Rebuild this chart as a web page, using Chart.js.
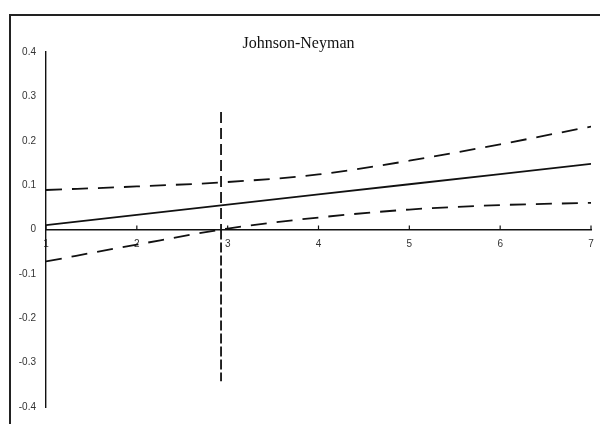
<!DOCTYPE html>
<html>
<head>
<meta charset="utf-8">
<script src="https://cdn.jsdelivr.net/npm/chart.js@4/dist/chart.umd.min.js"></script>
<style>
  html, body { margin: 0; padding: 0; background: #fff; }
  #wrap { width: 600px; height: 424px; position: relative; }
</style>
</head>
<body>
<div id="wrap"><canvas id="c" width="600" height="424"></canvas></div>
<script>
// ---- data ----
const titleText = "Johnson-Neyman";
const xValues = [1, 2, 3, 4, 5, 6, 7];
const effect = [0.010, 0.033, 0.056, 0.079, 0.102, 0.125, 0.148];
const upperCI = [0.089, 0.097, 0.107, 0.124, 0.155, 0.192, 0.232];
const lowerCI = [-0.072, -0.034, 0.002, 0.027, 0.045, 0.055, 0.060];
const jnPoint = 2.927;
const jnLineTop = 0.265;
const jnLineBottom = -0.342;
const xTicks = [1, 2, 3, 4, 5, 6, 7];
const xTickLabels = ["1", "2", "3", "4", "5", "6", "7"];
const yTicks = [-0.4, -0.3, -0.2, -0.1, 0, 0.1, 0.2, 0.3, 0.4];
const yTickLabels = ["-0.4", "-0.3", "-0.2", "-0.1", "0", "0.1", "0.2", "0.3", "0.4"];

const ink = '#111';

function pts(xs, ys) { return xs.map((x, i) => ({ x: x, y: ys[i] })); }

const framePlugin = {
  id: 'frame',
  beforeDraw(chart) {
    const ctx = chart.ctx;
    ctx.save();
    ctx.strokeStyle = '#222';
    ctx.lineWidth = 2;
    ctx.beginPath();
    ctx.moveTo(10, 424);
    ctx.lineTo(10, 15);
    ctx.lineTo(600, 15);
    ctx.stroke();
    ctx.restore();
  },
  afterDraw(chart) {
    const xs = chart.scales.x, ys = chart.scales.y;
    const ctx = chart.ctx;
    const y0 = ys.getPixelForValue(0);
    ctx.save();
    ctx.strokeStyle = ink;
    ctx.lineWidth = 1.2;
    xs.ticks.forEach(t => {
      const px = xs.getPixelForValue(t.value);
      ctx.beginPath();
      ctx.moveTo(px, y0);
      ctx.lineTo(px, y0 - 4);
      ctx.stroke();
    });
    ctx.restore();
  }
};

new Chart(document.getElementById('c'), {
  type: 'line',
  data: {
    datasets: [
      { data: pts(xValues, effect), borderColor: ink, borderWidth: 1.8, pointRadius: 0, tension: 0 },
      { data: pts(xValues, upperCI), borderColor: ink, borderWidth: 1.8, borderDash: [16, 10], pointRadius: 0, cubicInterpolationMode: 'monotone' },
      { data: pts(xValues, lowerCI), borderColor: ink, borderWidth: 1.8, borderDash: [16, 10], pointRadius: 0, cubicInterpolationMode: 'monotone' },
      { data: [{ x: jnPoint, y: jnLineTop }, { x: jnPoint, y: 0 }], borderColor: ink, borderWidth: 1.8, borderDash: [11, 5], pointRadius: 0 },
      { data: [{ x: jnPoint, y: 0 }, { x: jnPoint, y: jnLineBottom }], borderColor: ink, borderWidth: 1.8, borderDash: [10, 3], pointRadius: 0 }
    ]
  },
  options: {
    responsive: false,
    animation: false,
    layout: { padding: { top: 0, left: 6, right: 9, bottom: 17 } },
    plugins: {
      legend: { display: false },
      tooltip: { enabled: false },
      title: {
        display: true,
        text: titleText,
        color: ink,
        font: { family: '"Liberation Serif", "Times New Roman", serif', size: 16, weight: 'normal', lineHeight: 1.0 },
        padding: { top: 36, bottom: 0 }
      }
    },
    scales: {
      x: {
        type: 'linear',
        min: 1, max: 7,
        position: { y: 0 },
        afterBuildTicks: (s) => { s.ticks = xTicks.map(v => ({ value: v })); },
        afterFit: (s) => { s.paddingLeft = 0; s.paddingRight = 0; },
        grid: { display: false, drawOnChartArea: false, drawTicks: false },
        border: { display: true, color: ink, width: 1.4 },
        ticks: {
          padding: 9,
          color: '#333',
          maxRotation: 0,
          font: { family: '"Liberation Sans", Arial, sans-serif', size: 10 },
          callback: (v) => { const i = xTicks.indexOf(v); return i >= 0 ? xTickLabels[i] : ''; }
        }
      },
      y: {
        type: 'linear',
        min: -0.4, max: 0.4,
        afterFit: (s) => { s.width = 40; },
        afterBuildTicks: (s) => { s.ticks = yTicks.map(v => ({ value: v })); },
        grid: { display: false, drawOnChartArea: false, drawTicks: false },
        border: { display: true, color: ink, width: 1.4 },
        ticks: {
          padding: 10,
          color: '#333',
          font: { family: '"Liberation Sans", Arial, sans-serif', size: 10 },
          callback: (v) => {
            const i = yTicks.findIndex(t => Math.abs(t - v) < 1e-9);
            return i >= 0 ? yTickLabels[i] : '';
          }
        }
      }
    }
  },
  plugins: [framePlugin]
});
</script>
</body>
</html>
